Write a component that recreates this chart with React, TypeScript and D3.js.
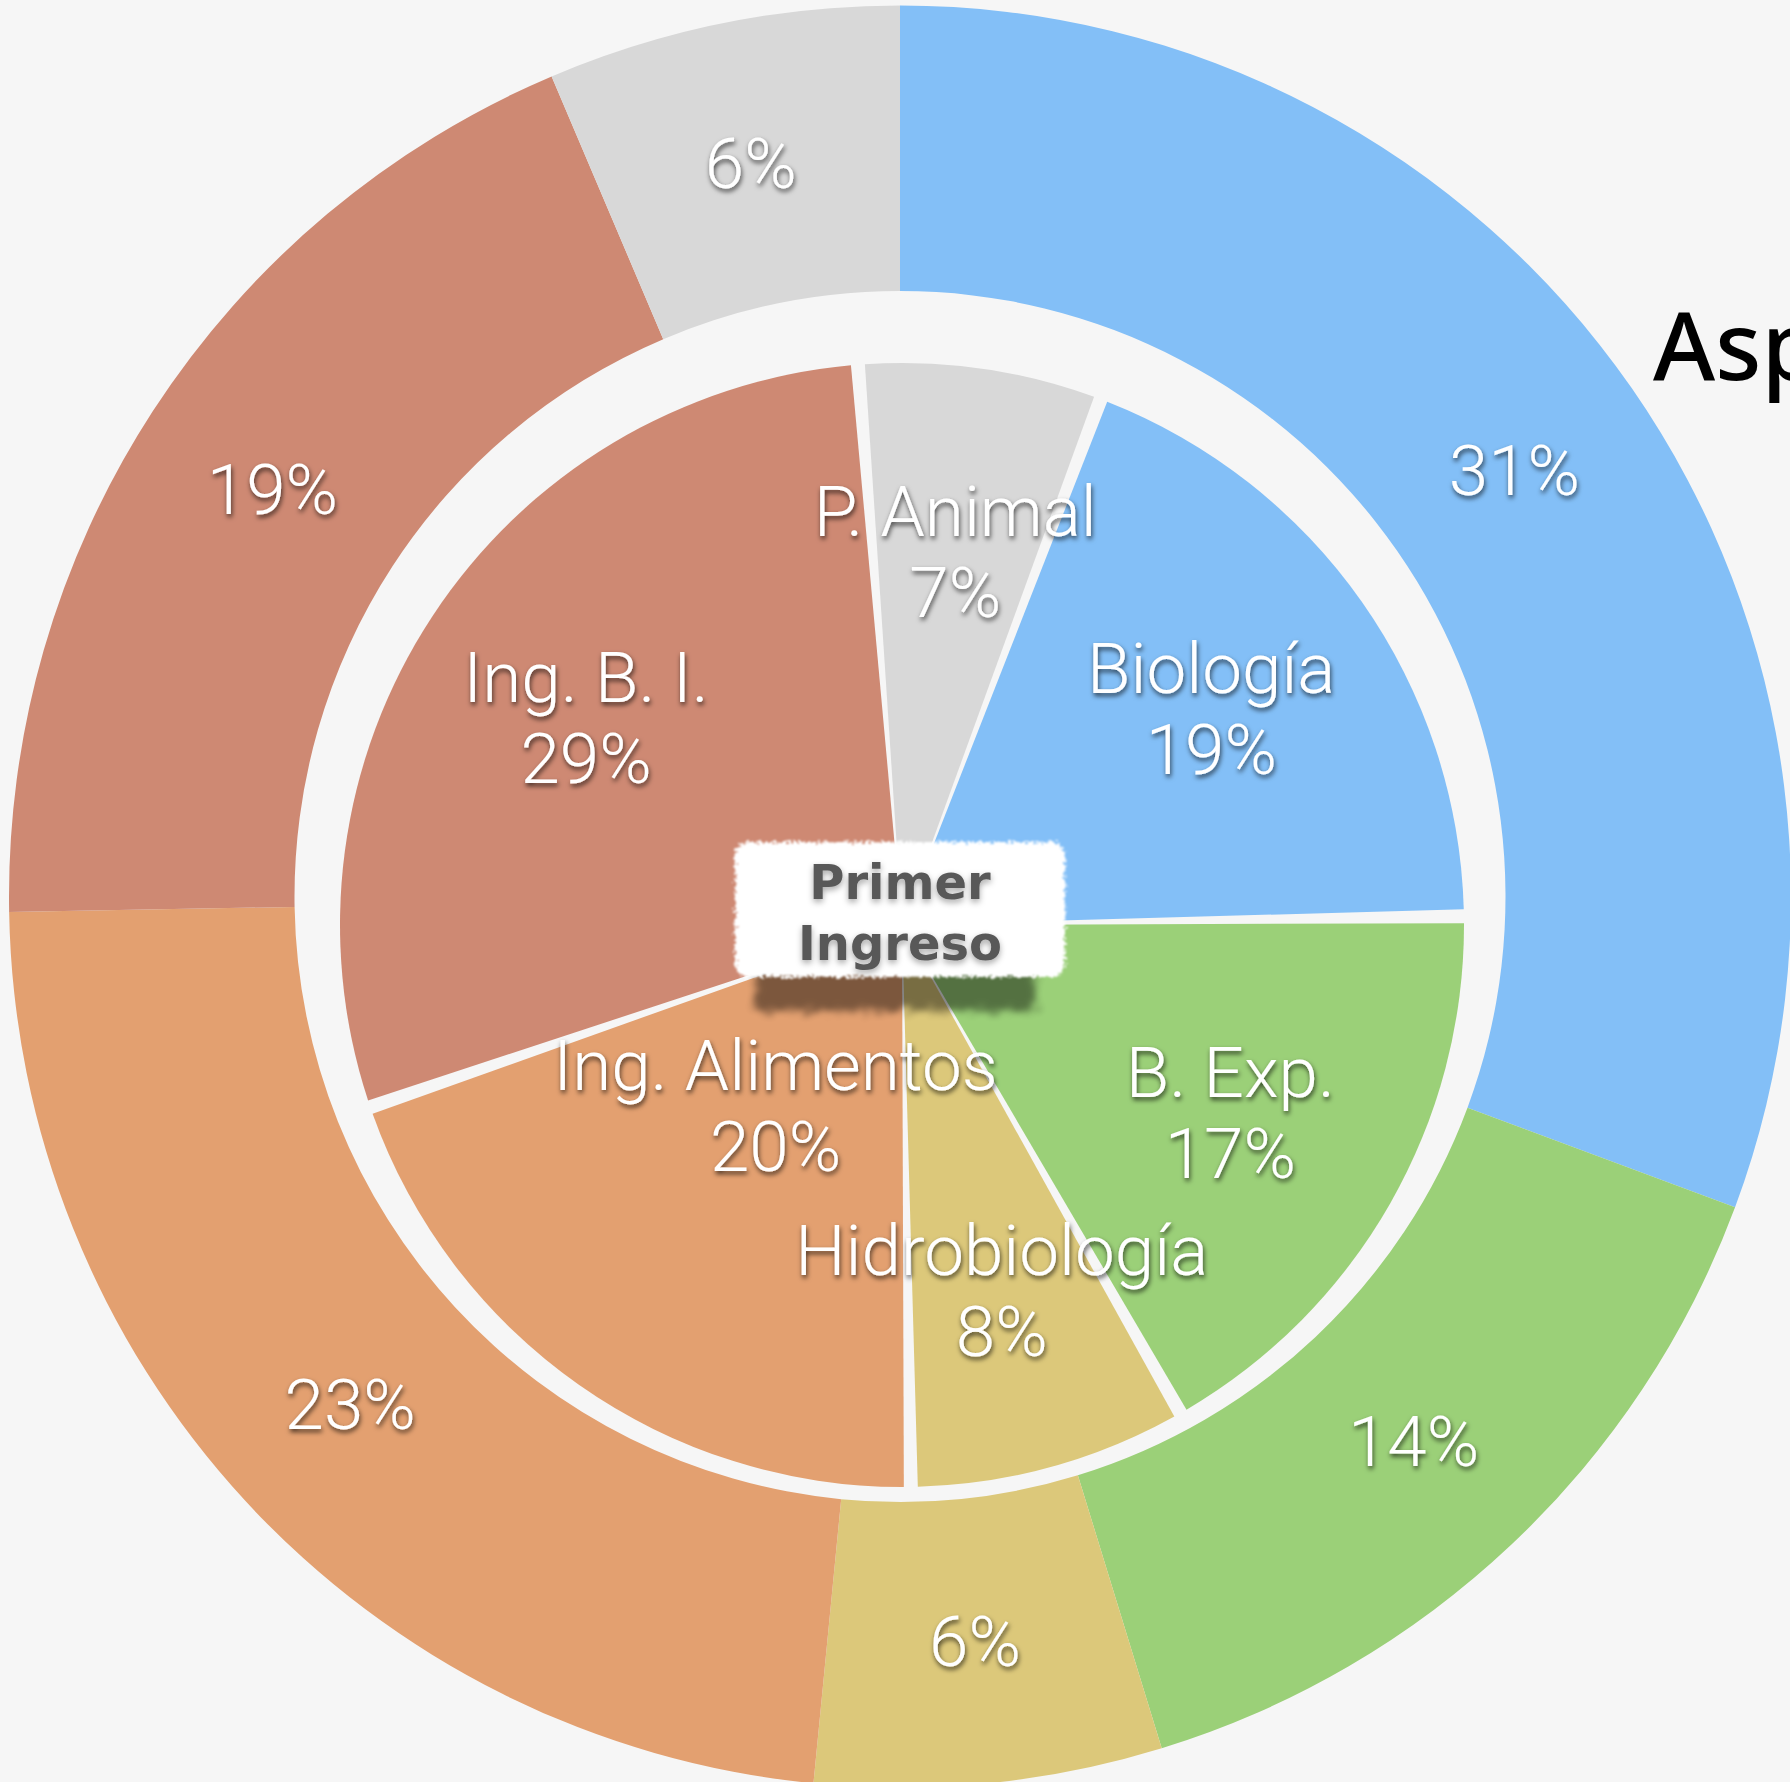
import React from "react";
import * as d3 from "d3";

// ---- data ----
const outerCategories = ["Biología", "B. Exp.", "Hidrobiología", "Ing. Alimentos", "Ing. B. I.", "P. Animal"];
const outerValues = [30.7, 14.6, 6.3, 23.2, 18.9, 6.4];
const outerLabels = ["31%", "14%", "6%", "23%", "19%", "6%"];

const innerCategories = ["P. Animal", "Biología", "B. Exp.", "Hidrobiología", "Ing. Alimentos", "Ing. B. I."];
const innerValues = [7, 19, 17, 8, 20, 29];
const innerLabels = ["7%", "19%", "17%", "8%", "20%", "29%"];

const centerTitle = ["Primer", "Ingreso"];
const outerTitle = "Aspirantes";

// ---- style ----
const colorOf: Record<string, string> = {
  "Biología": "#83bff7",
  "B. Exp.": "#9bd078",
  "Hidrobiología": "#dcc87a",
  "Ing. Alimentos": "#e3a070",
  "Ing. B. I.": "#ce8973",
  "P. Animal": "#d8d8d8",
};
const W = 1790;
const H = 1782;
const BG = "#f6f6f6";
const outerC = { x: 900, y: 896.5 };
const outerR0 = 605.5;
const outerR1 = 891;
const innerC = { x: 902, y: 925 };
const innerR = 562;
const innerStart = (-4.5 * Math.PI) / 180;
const labelFont = "'Roboto', 'Liberation Sans', sans-serif";
const labelSize = 71;
const innerLabelRadius: Record<string, number> = { "Ing. Alimentos": 220 };

export default function App() {
  const outerPie = d3.pie<number>().sort(null).value((d) => d)(outerValues);
  const innerPie = d3
    .pie<number>()
    .sort(null)
    .value((d) => d)
    .startAngle(innerStart)
    .endAngle(innerStart + 2 * Math.PI)(innerValues);

  const outerArc = d3.arc<d3.PieArcDatum<number>>().innerRadius(outerR0).outerRadius(outerR1);
  const outerLabelArc = d3
    .arc<d3.PieArcDatum<number>>()
    .innerRadius((outerR0 + outerR1) / 2)
    .outerRadius((outerR0 + outerR1) / 2);
  const innerArc = d3
    .arc<d3.PieArcDatum<number>>()
    .innerRadius(0)
    .outerRadius(innerR)
    .padRadius(innerR)
    .padAngle(14 / innerR);

  const innerLabelPos = (d: d3.PieArcDatum<number>, name: string) => {
    const r = innerLabelRadius[name] ?? 378;
    const a = (d.startAngle + d.endAngle) / 2;
    return [r * Math.sin(a), -r * Math.cos(a)];
  };

  const boxW = 330;
  const boxH = 135;
  const boxX = outerC.x - boxW / 2;
  const boxY = 842;

  return (
    <svg
      width={W}
      height={H}
      style={{ position: "absolute", left: 0, top: 0, display: "block" }}
      xmlns="http://www.w3.org/2000/svg"
    >
      <defs>
        <filter id="tshadow" x="-20%" y="-40%" width="140%" height="180%">
          <feDropShadow dx="1" dy="3" stdDeviation="2.4" floodColor="#000" floodOpacity="0.7" />
        </filter>
        <filter id="tshadow2" x="-20%" y="-40%" width="140%" height="180%">
          <feDropShadow dx="0" dy="3" stdDeviation="3" floodColor="#000" floodOpacity="0.35" />
        </filter>
        <filter id="rough" x="-10%" y="-20%" width="120%" height="140%">
          <feTurbulence type="fractalNoise" baseFrequency="0.35" numOctaves="3" seed="3" result="n" />
          <feDisplacementMap in="SourceGraphic" in2="n" scale="10" xChannelSelector="R" yChannelSelector="G" result="d" />
          <feGaussianBlur in="d" stdDeviation="1.2" />
        </filter>
        <filter id="roughShadow" x="-20%" y="-50%" width="140%" height="200%">
          <feTurbulence type="fractalNoise" baseFrequency="0.08 0.5" numOctaves="3" seed="7" result="n" />
          <feDisplacementMap in="SourceGraphic" in2="n" scale="24" xChannelSelector="R" yChannelSelector="G" result="d" />
          <feGaussianBlur in="d" stdDeviation="3" />
        </filter>
      </defs>
      <rect x={0} y={0} width={W} height={H} fill={BG} />

      {/* outer ring */}
      <g transform={`translate(${outerC.x},${outerC.y})`}>
        {outerPie.map((d, i) => (
          <path key={i} d={outerArc(d) || ""} fill={colorOf[outerCategories[i]]} />
        ))}
      </g>

      {/* inner pie */}
      <g transform={`translate(${innerC.x},${innerC.y})`}>
        {innerPie.map((d, i) => (
          <path key={i} d={innerArc(d) || ""} fill={colorOf[innerCategories[i]]} />
        ))}
      </g>

      {/* outer labels */}
      <g transform={`translate(${outerC.x},${outerC.y})`} filter="url(#tshadow)">
        {outerPie.map((d, i) => {
          const [x, y] = outerLabelArc.centroid(d);
          return (
            <text
              key={i}
              x={x}
              y={y + 25}
              textAnchor="middle"
              fontFamily={labelFont}
              fontWeight={300}
              fontSize={labelSize}
              fill="#fff"
            >
              {outerLabels[i]}
            </text>
          );
        })}
      </g>

      {/* inner labels */}
      <g transform={`translate(${innerC.x},${innerC.y})`} filter="url(#tshadow)">
        {innerPie.map((d, i) => {
          const [x, y] = innerLabelPos(d, innerCategories[i]);
          return (
            <text key={i} textAnchor="middle" fontFamily={labelFont} fontWeight={300} fontSize={labelSize} fill="#fff">
              <tspan x={x} y={y - 15}>
                {innerCategories[i]}
              </tspan>
              <tspan x={x} y={y + 66}>
                {innerLabels[i]}
              </tspan>
            </text>
          );
        })}
      </g>

      {/* center label */}
      <rect
        x={boxX + 20}
        y={boxY + boxH - 40}
        width={boxW - 50}
        height={74}
        fill="#000"
        opacity={0.45}
        filter="url(#roughShadow)"
      />
      <rect x={boxX} y={boxY} width={boxW} height={boxH} rx={14} fill="#fff" filter="url(#rough)" />
      <g filter="url(#tshadow2)">
        {centerTitle.map((t, i) => (
          <text
            key={i}
            x={outerC.x}
            y={boxY + 57 + i * 61}
            textAnchor="middle"
            fontFamily="'DejaVu Sans', 'Noto Sans', sans-serif"
            fontWeight={700}
            fontSize={48}
            fill="#585858"
          >
            {t}
          </text>
        ))}
      </g>

      {/* outer ring title (cropped at right edge, as in the reference) */}
      <text x={1653} y={380} fontFamily="'Noto Sans', 'Lato', sans-serif" fontWeight={500} fontSize={95} fill="#000">
        {outerTitle}
      </text>
    </svg>
  );
}
